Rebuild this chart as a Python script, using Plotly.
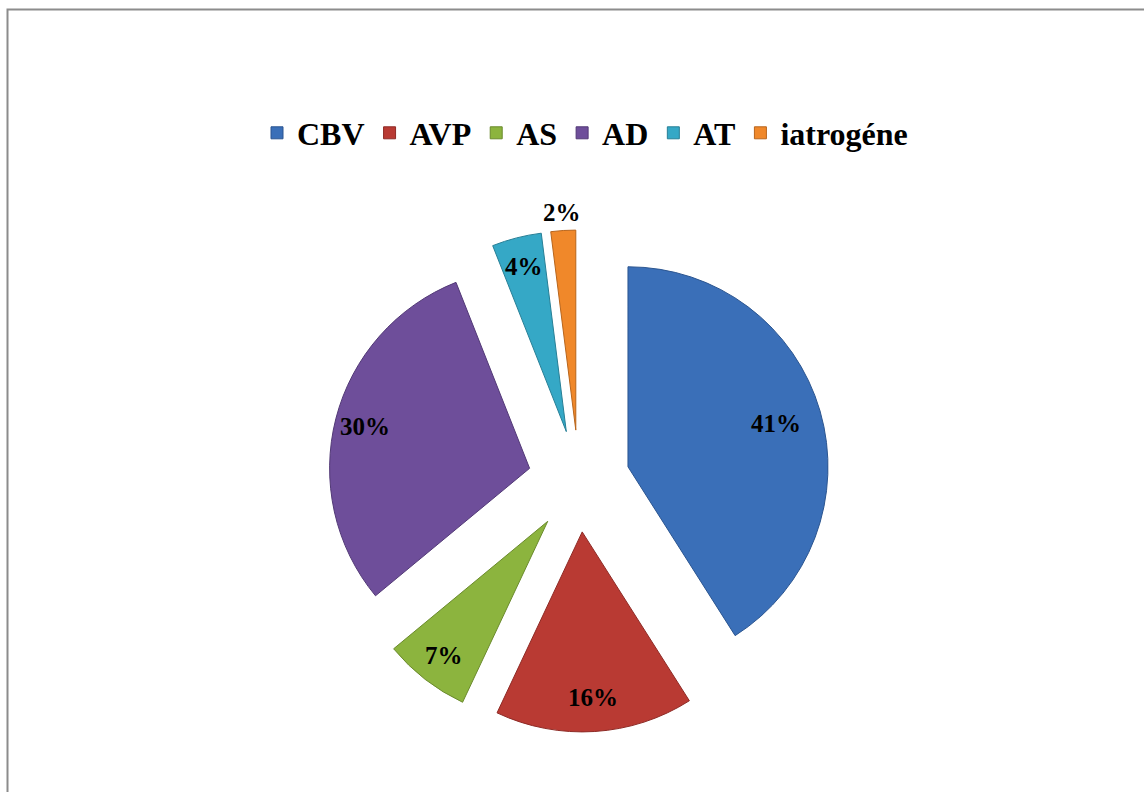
import math
import plotly.graph_objects as go

# Répartition des étiologies (%)
categories = ["CBV", "AVP", "AS", "AD", "AT", "iatrogéne"]
values = [41, 16, 7, 30, 4, 2]
colors = ["#3A6FB8", "#B93A33", "#8CB43E", "#6E4E9A", "#35A8C6", "#F0882A"]
edge_colors = ["#2B5590", "#8E2A25", "#6A8A2C", "#523976", "#277F96", "#B8651C"]

W, H = 1144, 792
CX, CY, R = 579, 481, 200          # pie centre and radius in pixels
PULL = 0.255                        # explode distance (fraction of radius)
LABEL_R = [0.77, 0.83, 0.85, 0.85, 0.85, 1.09]  # label distance from slice tip

half = R * (1 + PULL)
dom_x = [(CX - half) / W, (CX + half) / W]
dom_y = [1 - (CY + half) / H, 1 - (CY - half) / H]

fig = go.Figure(
    go.Pie(
        labels=categories,
        values=values,
        sort=False,
        direction="clockwise",
        rotation=0,
        pull=[PULL] * len(values),
        marker=dict(colors=colors, line=dict(color=edge_colors, width=1)),
        textinfo="none",
        hoverinfo="label+percent",
        domain=dict(x=dom_x, y=dom_y),
    )
)

# percentage labels placed along each slice's bisector
total = sum(values)
cum = 0
annotations = []
for v, lr in zip(values, LABEL_R):
    mid = (cum + v / 2) / total * 2 * math.pi
    cum += v
    dx, dy = math.sin(mid), -math.cos(mid)
    dist = R * PULL + R * lr
    px, py = CX + dx * dist, CY + dy * dist
    annotations.append(
        dict(
            x=px / W, y=1 - py / H, xref="paper", yref="paper",
            xanchor="center", yanchor="middle",
            text=f"{round(v / total * 100)}%", showarrow=False,
            font=dict(family="Liberation Serif", size=25, color="black", weight="bold"),
        )
    )

fig.update_layout(
    width=W, height=H,
    margin=dict(l=0, r=0, t=0, b=0),
    paper_bgcolor="white",
    plot_bgcolor="white",
    showlegend=True,
    legend=dict(
        orientation="h",
        x=585 / W, xanchor="center",
        y=1 - 133 / H, yanchor="middle",
        font=dict(family="Liberation Serif", size=32, color="black", weight="bold"),
        itemclick=False,
        itemwidth=30,
        traceorder="normal",
    ),
    annotations=annotations,
    shapes=[
        dict(
            type="rect", xref="paper", yref="paper",
            x0=7.5 / W, x1=1.2, y0=-0.2, y1=1 - 9.5 / H,
            line=dict(color="#8C8C8C", width=2),
        )
    ],
)

fig.write_html("out.html")
